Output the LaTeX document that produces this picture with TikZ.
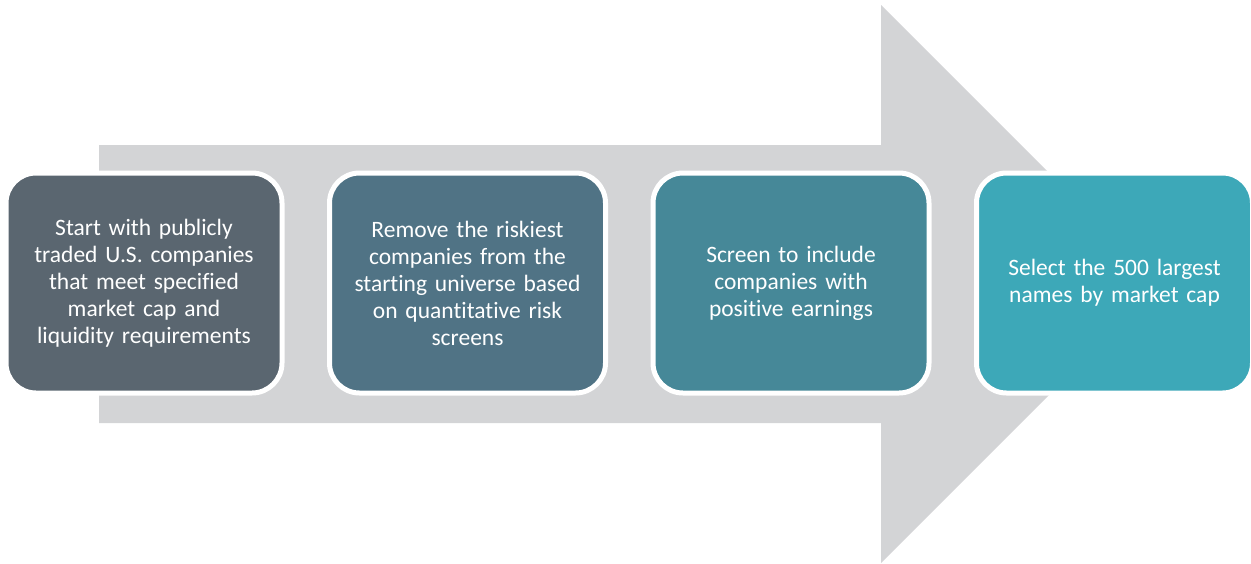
\documentclass[tikz,border=0pt]{standalone}
\usepackage{fontspec}
\setmainfont[Ligatures=NoCommon]{Carlito}
\usetikzlibrary{positioning}
\definecolor{arrowgray}{RGB}{211,212,214}
\definecolor{slateA}{RGB}{90,102,112}
\definecolor{slateB}{RGB}{80,115,133}
\definecolor{tealC}{RGB}{70,136,152}
\definecolor{tealD}{RGB}{61,168,184}
\tikzset{
node distance=42.5pt, % gap between two boxes (outer sep comes on top)
stage/.style={rectangle, rounded corners=30pt, draw=white, line width=5pt,
  minimum width=276pt, minimum height=220pt, text width=250pt, align=center,
  text=white, font=\fontsize{23.5}{27}\selectfont}, % the four process boxes
}

\begin{document}
\begin{tikzpicture}[x=1pt,y=-1pt]
      \useasboundingbox (0,0) rectangle (1251,563);
      % big arrow behind the boxes
      \fill[arrowgray] (99,145) -- (881,145) -- (881,5) -- (1160,284)
        -- (881,563) -- (881,423) -- (99,423) -- cycle;

      \node[stage, fill=slateA] (start) at (144,283)
        {Start with publicly\\traded U.S. companies\\that meet specified\\market cap and\\liquidity requirements};
      \node[stage, fill=slateB, right=of start] (remove)
        {Remove the riskiest\\companies from the\\starting universe based\\on quantitative risk\\screens};
      \node[stage, fill=tealC, right=of remove] (screen)
        {Screen to include\\companies with\\positive earnings};
      \node[stage, fill=tealD, right=of screen] (select)
        {Select the 500 largest\\names by market cap};
    \end{tikzpicture}
\end{document}
